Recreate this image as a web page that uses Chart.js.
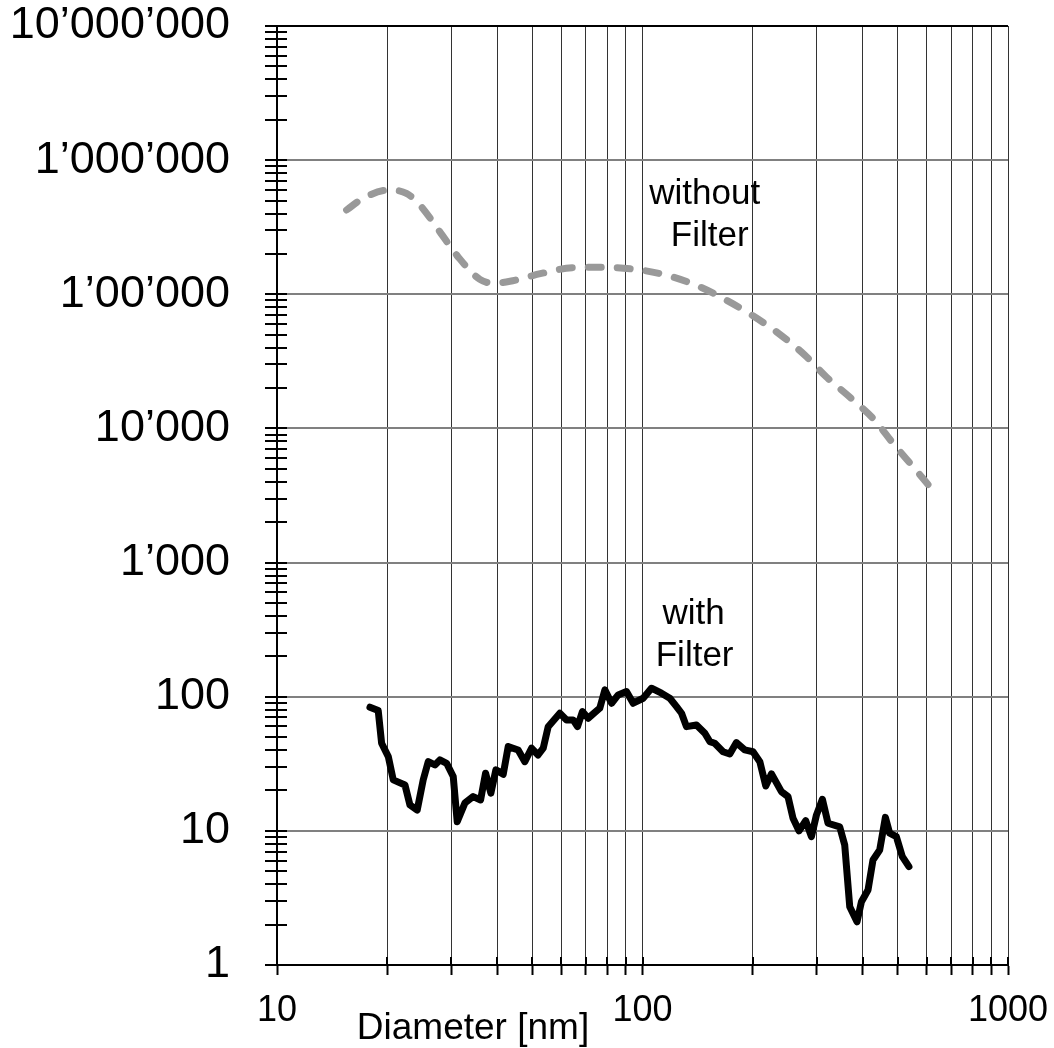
<!DOCTYPE html>
<html>
<head>
<meta charset="utf-8">
<script src="https://cdn.jsdelivr.net/npm/chart.js@4.4.0/dist/chart.umd.min.js"></script>
<style>
  html, body { margin: 0; padding: 0; background: #fff; }
  #wrap { width: 1054px; height: 1048px; }
</style>
</head>
<body>
<div id="wrap"><canvas id="chart" width="1054" height="1048"></canvas></div>
<script>
// Particle counts vs diameter

// without filter (gray dashed)
const rawDiameter = [15.5, 17.2, 20.2, 22.6, 24.6, 27.9, 31.3, 35.9, 39.0, 43.4, 52.9, 64.6, 78.9,
    96.3, 116, 142, 168, 201, 237, 278, 318, 373, 432, 485, 555, 617];
const rawCount = [425000, 519000, 598000, 565000, 463000, 292000, 190000, 129000, 121000, 125000,
    143000, 158000, 159000, 153000, 139000, 115000, 91600, 68800, 50500, 35200, 24300, 16700,
    11500, 7730, 5030, 3570];

// with filter (black)
const filteredDiameter = [17.96, 18.92, 19.33, 20.16, 20.8, 22.39, 23.1, 24.19, 25.12, 25.93, 27.04,
    27.91, 29.11, 30.35, 31.12, 32.66, 34.41, 36.06, 37.21, 38.47, 39.71, 41.58, 42.91, 45.69,
    47.65, 49.7, 51.8, 53.5, 55.2, 59.4, 61.97, 64.6, 66.4, 68.5, 71.0, 76.4, 78.9, 82.3, 85.8,
    90.4, 94.3, 100.4, 105.8, 112.7, 118.8, 123.9, 127.9, 131.9, 140.5, 148.1, 152.8, 157.6,
    166.1, 173.3, 180.7, 190.4, 200.6, 209.4, 217.4, 225.4, 239.9, 250.1, 258.1, 268.1, 279.6,
    289.8, 299.1, 310.6, 321.8, 346.4, 357.5, 369.0, 386.3, 397.2, 414.0, 427.2, 445.6, 461.9,
    474.5, 495.0, 514.0, 535.8];
const filteredCount = [83.5, 78.8, 45.0, 35.8, 24.0, 22.0, 15.6, 14.3, 24.0, 32.8, 31.0,
    33.8, 31.9, 25.4, 11.7, 16.1, 18.0, 17.0, 26.9, 19.1, 28.5, 26.4, 42.5, 40.1,
    32.8, 41.3, 36.8, 41.3, 59.8, 75.3, 67.1, 67.1, 59.8, 77.4, 69.1, 82.1, 112.4, 89.4, 103.1,
    109.2, 89.4, 97.4, 115.7, 106.2, 97.4, 84.4, 75.3, 59.8, 61.6, 53.4, 46.3, 45.0,
    38.9, 37.4, 45.5, 40.1, 38.9, 32.8, 21.6, 26.6, 19.6, 18.0, 12.4, 10.0, 11.9,
    9.05, 13.1, 17.2, 11.4, 10.7, 7.85, 2.72, 2.10, 2.96, 3.62, 6.07, 7.20, 12.6,
    9.60, 9.05, 6.42, 5.41];

// axis labels
const yTickValues = [1, 10, 100, 1000, 10000, 100000, 1000000, 10000000];
const yTickLabels = ['1', '10', '100', '1’000', '10’000', '1’00’000', '1’000’000', '10’000’000'];
const xTickValues = [10, 100, 1000];
const xTickLabels = ['10', '100', '1000'];
const xTitle = 'Diameter [nm]';

// minor ticks: 1..9 in every decade
function decadeTicks(min, max) {
    const out = [];
    for (let d = min; d < max; d *= 10) {
        for (let m = 1; m < 10; m++) out.push(d * m);
    }
    out.push(max);
    return out;
}
const yAllTicks = decadeTicks(1, 10000000);
const xAllTicks = decadeTicks(10, 1000);

const isDecade = v => Math.abs(Math.log10(v) - Math.round(Math.log10(v))) < 1e-9;

const FONT = "'Liberation Sans', Arial, sans-serif";

// tick marks also reach into the plot area
const crossTicks = {
    id: 'crossTicks',
    afterDraw(chart) {
        const c = chart.ctx;
        const xs = chart.scales.x, ys = chart.scales.y;
        c.save();
        c.strokeStyle = '#000';
        c.lineWidth = 2;
        c.beginPath();
        yAllTicks.forEach(v => {
            const py = Math.round(ys.getPixelForValue(v));
            c.moveTo(xs.left, py);
            c.lineTo(xs.left + 10, py);
        });
        xAllTicks.forEach(v => {
            const px = Math.round(xs.getPixelForValue(v));
            c.moveTo(px, ys.bottom);
            c.lineTo(px, ys.bottom - 8);
        });
        c.stroke();
        c.restore();
    }
};

// curve labels and the axis title
const notes = [
    { x: 148, y: 560000, lines: ['without', 'Filter'], dx: [0, 5] },
    { x: 138, y: 414, lines: ['with', 'Filter'], dx: [0, 1] }
];
const textLayer = {
    id: 'textLayer',
    afterDraw(chart) {
        const c = chart.ctx;
        const xs = chart.scales.x, ys = chart.scales.y;
        c.save();
        c.fillStyle = '#000';
        c.textAlign = 'center';
        c.textBaseline = 'middle';
        c.font = '35px ' + FONT;
        notes.forEach(n => {
            const px = xs.getPixelForValue(n.x);
            const py = ys.getPixelForValue(n.y);
            n.lines.forEach((t, i) => c.fillText(t, px + n.dx[i], py + i * 42));
        });
        c.font = '37px ' + FONT;
        c.textBaseline = 'alphabetic';
        c.fillText(xTitle, 473, 1039);
        c.restore();
    }
};

new Chart(document.getElementById('chart'), {
    type: 'line',
    data: {
        datasets: [
            {
                label: 'without Filter',
                data: rawDiameter.map((d, i) => ({ x: d, y: rawCount[i] })),
                borderColor: '#999999',
                borderWidth: 7,
                borderDash: [13, 16],
                borderCapStyle: 'round',
                cubicInterpolationMode: 'monotone',
                pointRadius: 0,
                fill: false
            },
            {
                label: 'with Filter',
                data: filteredDiameter.map((d, i) => ({ x: d, y: filteredCount[i] })),
                borderColor: '#000000',
                borderWidth: 7,
                borderJoinStyle: 'round',
                borderCapStyle: 'round',
                tension: 0,
                pointRadius: 0,
                fill: false
            }
        ]
    },
    options: {
        responsive: false,
        animation: false,
        devicePixelRatio: 1,
        layout: { padding: { top: 26, right: 46, left: 0, bottom: 0 } },
        plugins: {
            legend: { display: false },
            tooltip: { enabled: false }
        },
        scales: {
            x: {
                type: 'logarithmic',
                min: 10,
                max: 1000,
                afterBuildTicks: s => { s.ticks = xAllTicks.map(v => ({ value: v })); },
                afterFit: s => { s.height = 83; s.paddingLeft = 0; s.paddingRight = 0; },
                border: { display: true, color: '#000', width: 2 },
                grid: {
                    color: '#333333',
                    lineWidth: 1,
                    tickColor: '#000',
                    tickLength: 10,
                    tickWidth: 2
                },
                ticks: {
                    autoSkip: false,
                    maxRotation: 0,
                    minRotation: 0,
                    padding: 14,
                    color: '#000',
                    font: { size: 36, family: FONT },
                    callback: v => {
                        const i = xTickValues.indexOf(v);
                        return i >= 0 ? xTickLabels[i] : '';
                    }
                }
            },
            y: {
                type: 'logarithmic',
                min: 1,
                max: 10000000,
                afterBuildTicks: s => { s.ticks = yAllTicks.map(v => ({ value: v })); },
                afterFit: s => { s.width = 277; s.paddingTop = 0; s.paddingBottom = 0; },
                border: { display: true, color: '#000', width: 2 },
                grid: {
                    color: ctx => {
                        const v = ctx.tick ? ctx.tick.value : 0;
                        if (v === 10000000) return '#000';
                        return isDecade(v) ? '#808080' : 'rgba(0,0,0,0)';
                    },
                    lineWidth: ctx => (ctx.tick && isDecade(ctx.tick.value)) ? 2 : 0,
                    tickColor: '#000',
                    tickLength: 12,
                    tickWidth: 2
                },
                ticks: {
                    autoSkip: false,
                    padding: 35,
                    color: '#000',
                    font: { size: 45, family: FONT },
                    callback: v => {
                        const i = yTickValues.indexOf(v);
                        return i >= 0 ? yTickLabels[i] : '';
                    }
                }
            }
        }
    },
    plugins: [crossTicks, textLayer]
});
</script>
</body>
</html>
